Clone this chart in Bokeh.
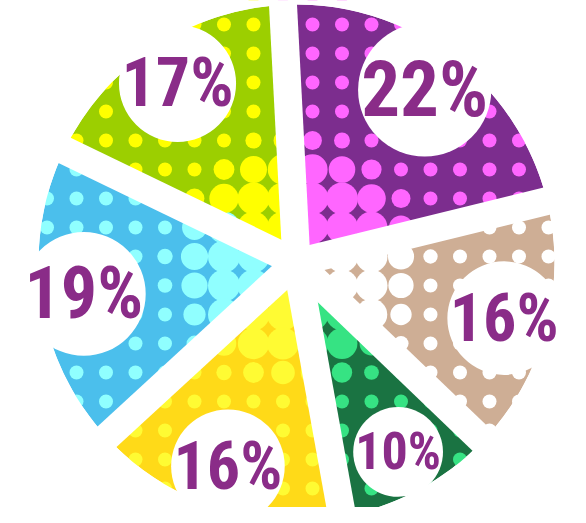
import numpy as np
from bokeh.plotting import figure
from bokeh.models import Range1d, ColumnDataSource
from bokeh.core.properties import value
from bokeh.embed import file_html
from bokeh.resources import INLINE

# ---- data (clockwise from the top) ----
labels = ["22%", "16%", "10%", "16%", "19%", "17%"]
shares = [22, 16, 10, 16, 19, 17]
base_colors = ["#7C2D8E", "#CEAE95", "#1A7342", "#FFDA18", "#4BBFEC", "#9CCF00"]
dot_colors = ["#FF66FF", "#FFFFFF", "#36E383", "#FFFB33", "#90FFFF", "#FFFF00"]
label_color = "#8A2C88"

W, H = 570, 507
p = figure(width=W, height=H, output_backend="svg", toolbar_location=None,
           x_range=Range1d(8, 578), y_range=Range1d(8, 515), min_border=0,
           x_axis_location=None, y_axis_location=None)
p.grid.visible = False
p.outline_line_color = None
p.background_fill_color = "white"
p.border_fill_color = "white"

cx, cy = 304.0, 253.0
R = 258.0
A0 = np.deg2rad(93.0)
frac = np.array(shares, dtype=float) / sum(shares)
ends = A0 - 2 * np.pi * np.concatenate([[0.0], np.cumsum(frac)[:-1]])
starts = ends - 2 * np.pi * frac
mids = (starts + ends) / 2

p.wedge(x=cx, y=cy, radius=R, start_angle=starts, end_angle=ends,
        fill_color=base_colors, line_color=None)

# halftone dots
gx = np.arange(320 - 29.5 * 12, 620, 29.5)
gy = 523 - np.arange(3, 560, 29.0)
XX, YY = np.meshgrid(gx, gy)
XX = XX.ravel(); YY = YY.ravel()
dx = XX - cx; dy = YY - cy
d = np.hypot(dx, dy)
th = np.arctan2(dy, dx)
dxs, dys, drs, dcs = [], [], [], []
for i in range(len(shares)):
    span = ends[i] - starts[i]
    inside = (np.mod(th - starts[i], 2 * np.pi) < span) & (d < R + 18) & (d > 15)
    r = np.clip(15 - (d[inside] - 95) * 0.2, 7, 16)
    dxs += list(XX[inside]); dys += list(YY[inside]); drs += list(r)
    dcs += [dot_colors[i]] * int(inside.sum())
p.circle(x=dxs, y=dys, radius=drs, fill_color=dcs, line_color=None)

# white gaps
L = R + 60
p.segment(x0=cx, y0=cy, x1=cx + L * np.cos(ends), y1=cy + L * np.sin(ends),
          line_color="white", line_width=28, line_cap="butt")
p.circle(x=[cx], y=[cy], radius=20, fill_color="white", line_color=None)
p.annulus(x=cx, y=cy, inner_radius=R, outer_radius=R + 500,
          fill_color="white", line_color=None)

# label discs and texts
rl = 215.0
cr = 14.2 * np.sqrt(np.array(shares, dtype=float))
lx = cx + rl * np.cos(mids)
ly = cy + rl * np.sin(mids)
src = ColumnDataSource(dict(x=lx, y=ly, r=cr, text=labels,
                            fs=["%dpx" % round(1.16 * c) for c in cr]))
p.circle(x="x", y="y", radius="r", source=src, fill_color="white", line_color=None)
p.text(x="x", y="y", text="text", source=src, text_font_size="fs",
       text_font=value("Roboto Condensed, DejaVu Sans Condensed, Roboto, sans-serif"),
       text_font_style="bold",
       text_color=label_color, text_align="center", text_baseline="middle")

open("out.html", "w").write(file_html(p, INLINE))
